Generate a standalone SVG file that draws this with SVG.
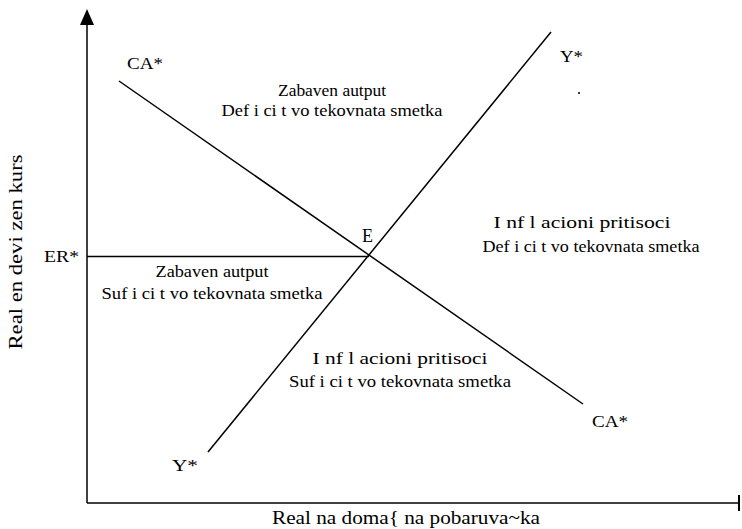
<svg xmlns="http://www.w3.org/2000/svg" width="742" height="529" viewBox="0 0 742 529">
<style>
.ln{stroke:#000;stroke-width:1.5;fill:none}
.t{font-family:"Liberation Serif","Times New Roman",serif;fill:#000}
.s{font-size:17px}
.r{font-size:17px;text-anchor:middle}
</style>
<rect width="742" height="529" fill="#fff"/>
<g id="axes">
<line class="ln" x1="87" y1="503" x2="87" y2="22"/>
<polygon points="87,9 80,25 94,25" fill="#000"/>
<line class="ln" x1="87" y1="503" x2="739" y2="503"/>
<line x1="739" y1="495" x2="739" y2="511" stroke="#000" stroke-width="2"/>
<text class="t" font-size="18" x="17" y="252" text-anchor="middle" textLength="195" lengthAdjust="spacingAndGlyphs" transform="rotate(-90 17 252)" dy="5">Real en devi zen kurs</text>
<text class="t" font-size="18" x="406" y="524" text-anchor="middle" textLength="268" lengthAdjust="spacingAndGlyphs">Real na doma{  na pobaruva~ka</text>
</g>
<g id="connectors">
<line id="ca-line" class="ln" x1="119" y1="81" x2="583" y2="404"/>
<line id="y-line" class="ln" x1="208" y1="452" x2="551" y2="32"/>
<line id="er-line" class="ln" x1="87" y1="256.5" x2="369" y2="256.5"/>
</g>
<g id="curve-labels">
<text class="t s" x="127" y="69" textLength="36" lengthAdjust="spacingAndGlyphs">CA*</text>
<text class="t s" x="560" y="62" textLength="23" lengthAdjust="spacingAndGlyphs">Y*</text>
<circle cx="579" cy="93" r="1" fill="#000"/>
<text class="t s" x="44" y="262" textLength="35" lengthAdjust="spacingAndGlyphs">ER*</text>
<text class="t" font-size="18" x="362" y="242">E</text>
<text class="t s" x="592" y="427" textLength="36" lengthAdjust="spacingAndGlyphs">CA*</text>
<text class="t s" x="172" y="471" textLength="26" lengthAdjust="spacingAndGlyphs">Y*</text>
</g>
<g id="region-top">
<text class="t r" x="332" y="96" textLength="108" lengthAdjust="spacingAndGlyphs">Zabaven autput</text>
<text class="t r" x="332" y="116" textLength="221" lengthAdjust="spacingAndGlyphs">Def i ci t vo tekovnata smetka</text>
</g>
<g id="region-right">
<text class="t r" x="582" y="228" textLength="177" lengthAdjust="spacingAndGlyphs">I nf l acioni pritisoci</text>
<text class="t r" x="591" y="252" textLength="217" lengthAdjust="spacingAndGlyphs">Def i ci t vo tekovnata smetka</text>
</g>
<g id="region-left">
<text class="t r" x="212" y="277" textLength="113" lengthAdjust="spacingAndGlyphs">Zabaven autput</text>
<text class="t r" x="212" y="299" textLength="221" lengthAdjust="spacingAndGlyphs">Suf i ci t vo tekovnata smetka</text>
</g>
<g id="region-bottom">
<text class="t r" x="400" y="364" textLength="175" lengthAdjust="spacingAndGlyphs">I nf l acioni pritisoci</text>
<text class="t r" x="400" y="387" textLength="222" lengthAdjust="spacingAndGlyphs">Suf i ci t vo tekovnata smetka</text>
</g>
</svg>
